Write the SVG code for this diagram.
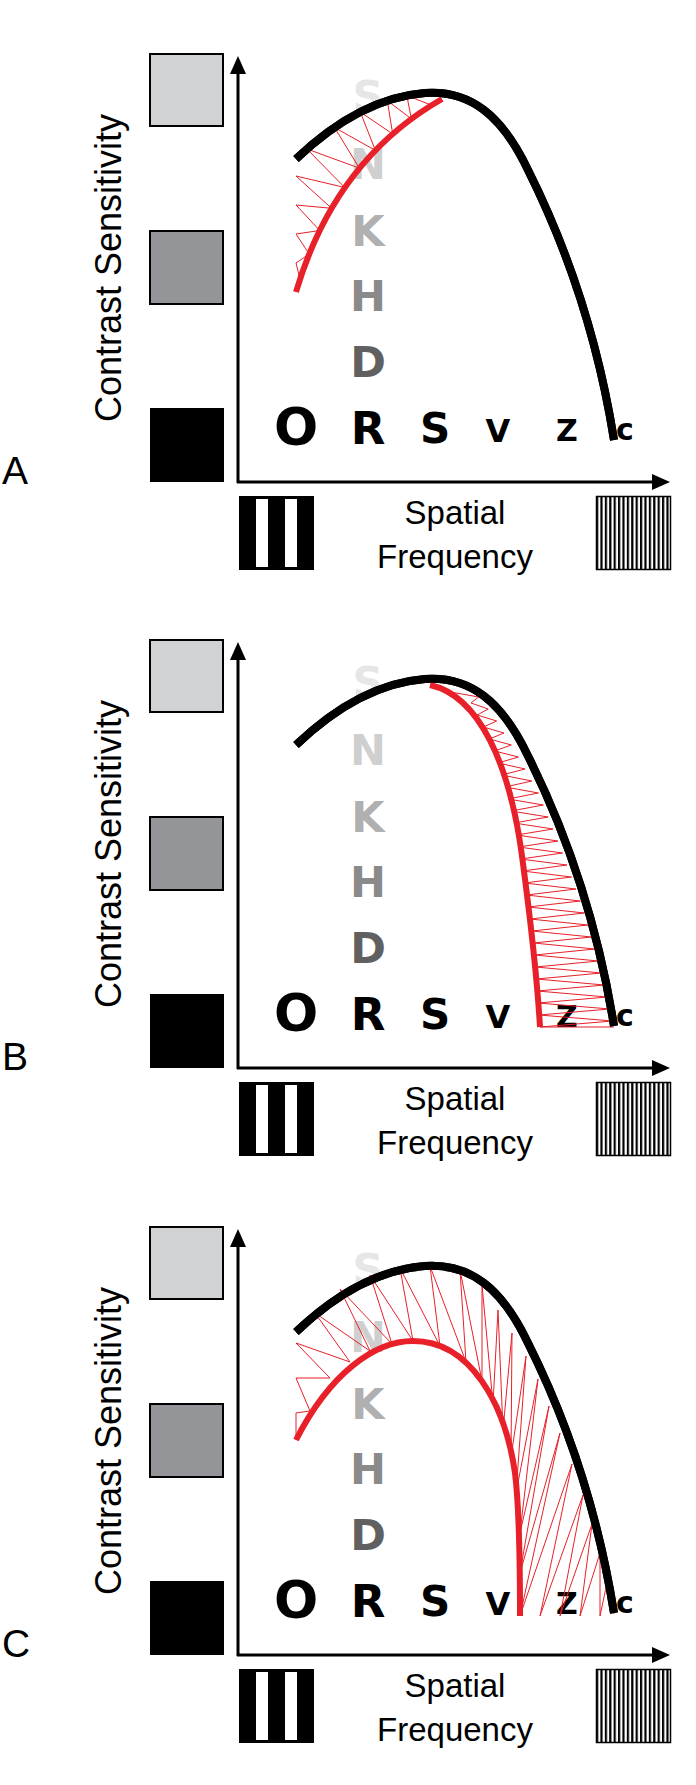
<svg xmlns="http://www.w3.org/2000/svg" xmlns:xlink="http://www.w3.org/1999/xlink" width="696" height="1785" viewBox="0 0 696 1785">
<style>
.lbl{font-family:"Liberation Sans",Arial,sans-serif;fill:#000}
.let{font-family:"DejaVu Sans","Liberation Sans",sans-serif;font-weight:bold;text-anchor:middle}
.ax{stroke:#000;stroke-width:3;fill:none}
.blk{stroke:#000;stroke-width:8;fill:none;stroke-linecap:butt}
.red{stroke:#e8202a;stroke-width:6;fill:none}
.hatch{stroke:#e8202a;stroke-width:1;fill:none;stroke-linejoin:miter}
</style>
<defs>
<pattern id="fine" x="596" y="0" width="4.4" height="10" patternUnits="userSpaceOnUse">
<rect x="0" y="0" width="2.2" height="10" fill="#000"/>
</pattern>
<g id="base">
<rect x="150" y="54" width="73" height="72" fill="#d1d2d4" stroke="#000" stroke-width="2"/>
<rect x="150" y="231" width="73" height="73" fill="#939598" stroke="#000" stroke-width="2"/>
<rect x="150" y="408" width="74" height="74" fill="#000"/>
<text class="lbl" font-size="36" transform="translate(121,268) rotate(-90)" text-anchor="middle">Contrast Sensitivity</text>
<line class="ax" x1="238" y1="70" x2="238" y2="483"/>
<line class="ax" x1="237" y1="482" x2="655" y2="482"/>
<polygon points="238,56 230,74 246,74" fill="#000"/>
<polygon points="670,482 652,474 652,490" fill="#000"/>
<rect x="239" y="496" width="75" height="74" fill="#000"/>
<rect x="256" y="499" width="12" height="68" fill="#fff"/>
<rect x="285" y="499" width="12" height="68" fill="#fff"/>
<rect x="596.5" y="496.5" width="74" height="73" fill="url(#fine)" stroke="#000" stroke-width="1.5"/>
<text class="lbl" font-size="33" x="455" y="524" text-anchor="middle">Spatial</text>
<text class="lbl" font-size="33" x="455" y="568" text-anchor="middle">Frequency</text>
<text class="let" font-size="43" x="368" y="111" fill="#e6e6e6">S</text>
<text class="let" font-size="43" x="368" y="179" fill="#cfcfcf">N</text>
<text class="let" font-size="43" x="368" y="246" fill="#b0b0b0">K</text>
<text class="let" font-size="43" x="368" y="311" fill="#8a8a8a">H</text>
<text class="let" font-size="43" x="368" y="377" fill="#606060">D</text>
<text class="let" font-size="52" x="296" y="445" fill="#000">O</text>
<text class="let" font-size="45" x="368" y="444" fill="#000">R</text>
<text class="let" font-size="42" x="435" y="443" fill="#000">S</text>
<text class="let" font-size="32" x="498" y="442" fill="#000">V</text>
<text class="let" font-size="30" x="567" y="441" fill="#000">Z</text>
<text class="let" font-size="30" x="625" y="440" fill="#000">c</text>
<path id="blackcurve" class="blk" d="M296,159 Q360,98 425,93 C470,90 502,115 528,170 C568,250 598,340 614,440"/>
</g>
</defs>
<g id="panelA">
<text class="lbl" font-size="39" x="2" y="484">A</text>
<use xlink:href="#base"/>
<polyline class="hatch" points="296,292 300,279 296,263 309.2,254 296,234 319.7,230.5 296,205 331.6,208.3 296,176 344.8,187.5 306.8,148.9 359.4,168.2 334.5,127.5 375.4,150.4 360.3,112 392.7,134 387.3,100.7 411.4,118.9 406.8,95.5 431.4,105.2 442,99"/>
<path class="red" d="M296,292 Q335,160 442,99"/>
<use xlink:href="#blackcurve"/>
</g>
<g id="panelB" transform="translate(0,586)">
<text class="lbl" font-size="39" x="2" y="484">B</text>
<use xlink:href="#base"/>
<polyline class="hatch" points="445,105 478.7,111 471,117 488.2,123 477.2,129 496.7,135 483.3,141 504,147 489.4,153 511.3,159 494.5,165 518.4,171 498.1,177 525.1,183 501.7,189 531.8,195 505.2,201 538.4,207 508.2,213 543.3,219 511.1,225 548.2,231 514,237 553.1,243 516.7,249 557.9,255 518.6,261 562.6,267 520.6,273 567,279 522.6,285 571.5,291 524.5,297 576,303 526.4,309 580.4,315 528.2,321 584.5,327 530,333 588,339 531.8,345 591.5,351 533.6,357 595,363 534.7,369 598.5,375 535.6,381 601.6,387 536.4,393 604.4,399 537.3,405 607.1,411 538.2,417 609.9,423 539.1,429 612.7,435 540,441 614,441"/>
<path class="red" d="M430,99 C480,110 510,180 522,270 C530,330 537,390 540,441"/>
<use xlink:href="#blackcurve"/>
</g>
<g id="panelC" transform="translate(0,1173)">
<text class="lbl" font-size="39" x="2" y="484">C</text>
<use xlink:href="#base"/>
<polyline class="hatch" points="296,267 296,240 310,238 296,205 330,205 296,170 350,189 315,140 370,178 340,116 392,171 370,102 413,168 400,95 440,173 430,93 466,189 460,97 482,208 482,112 493,231 498,137 503,257 512,160 511,284 526,183 516,320 538,206 520,360 549,233 520,400 560,260 520,443 572,291 540,443 583,322 560,443 592,351 580,443 600,380 600,443 607,410 614,441"/>
<path class="red" d="M296,267 C330,200 375,168 413,168 C470,168 505,230 515,300 C520,340 520,400 520,443"/>
<use xlink:href="#blackcurve"/>
</g>
</svg>
